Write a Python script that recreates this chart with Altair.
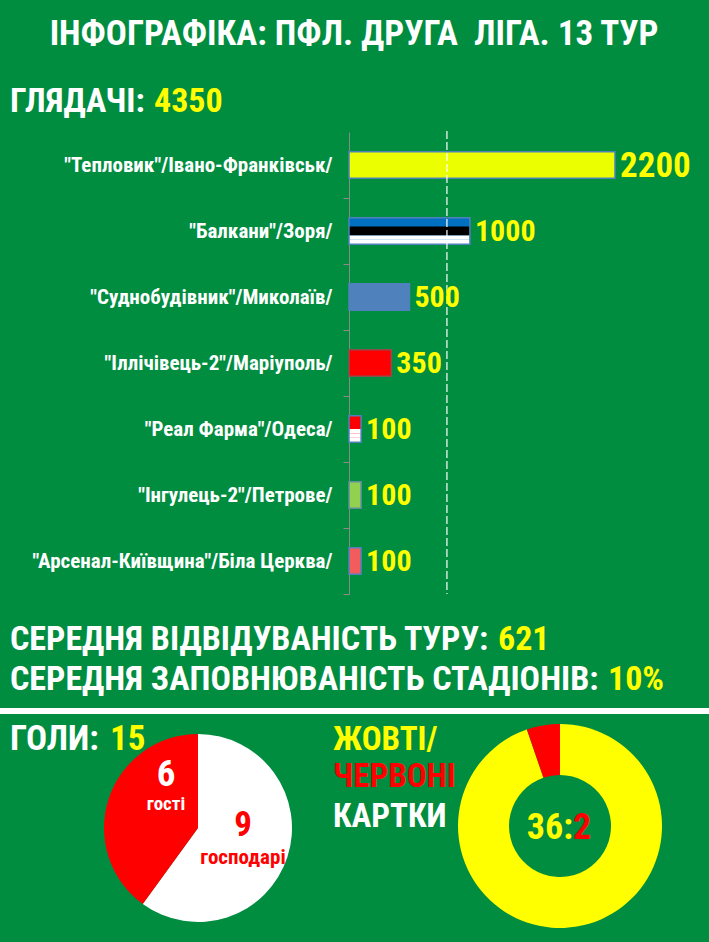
import altair as alt
import pandas as pd

# ---------------- data ----------------
TITLE = "ІНФОГРАФІКА: ПФЛ. ДРУГА\u00a0 ЛІГА. 13 ТУР"
viewers_total = "4350"
teams = [
    '"Тепловик"/Івано-Франківськ/',
    '"Балкани"/Зоря/',
    '"Суднобудівник"/Миколаїв/',
    '"Іллічівець-2"/Маріуполь/',
    '"Реал Фарма"/Одеса/',
    '"Інгулець-2"/Петрове/',
    '"Арсенал-Київщина"/Біла Церква/',
]
viewers = [2200, 1000, 500, 350, 100, 100, 100]
bar_fill = ["#EBFF00", "#0070C0", "#4F81BD", "#FF0000", "#FF0000", "#92D050", "#F25C5C"]
bar_stroke = ["#4F81BD", "#4F81BD", "#4F81BD", "#8C4F4F", "#4F81BD", "#5F8FA0", "#4F81BD"]
ref_value = 810
avg_attendance = "621"
avg_fill = "10%"

# flag stripes (six equal sub-bands per bar)
stripe_teams = ['"Балкани"/Зоря/', '"Реал Фарма"/Одеса/']
stripe_colors = [
    ["#0070C0", "#0070C0", "#000000", "#000000", "#FFFFFF", "#FFFFFF"],
    ["#FF0000", "#FF0000", "#FF0000", "#FFFFFF", "#FFFFFF", "#FFFFFF"],
]
subs = ["s1", "s2", "s3", "s4", "s5", "s6"]

goals_total = "15"
goal_names = ["господарі", "гості"]
goal_values = [9, 6]
goal_colors = ["#FFFFFF", "#FF0000"]

card_names = ["жовті", "червоні"]
card_values = [36, 2]
card_colors = ["#FFFF00", "#FF0000"]

# ---------------- style ----------------
GREEN = "#008D3F"
YELLOW = "#FFFF00"
WHITE = "#FFFFFF"
RED = "#FF0000"
FONT = "'Roboto Condensed', 'DejaVu Sans Condensed', 'Liberation Sans Narrow', Roboto, sans-serif"

bars_df = pd.DataFrame({"team": teams, "viewers": viewers, "fill": bar_fill, "stroke": bar_stroke})
stripe_rows = []
for t, cols in zip(stripe_teams, stripe_colors):
    v = viewers[teams.index(t)]
    for s, c in zip(subs, cols):
        stripe_rows.append({"team": t, "viewers": v, "sub": s, "fill": c})
stripes_df = pd.DataFrame(stripe_rows)

xs = alt.Scale(domain=[0, 2200], range=[349, 615], nice=False)
ys = alt.Scale(domain=teams, range=[132, 594], paddingInner=0.6, paddingOuter=0.3)

X = alt.X("viewers:Q", scale=xs, axis=None)
Y = alt.Y(
    "team:N", scale=ys, sort=teams, title=None,
    axis=alt.Axis(
        offset=-349, labelColor=WHITE, labelFont=FONT, labelFontSize=21,
        labelFontWeight="bold", labelPadding=11, tickColor="#8A8A8A", tickSize=6,
        tickOffset=33, labelOffset=-33, domainColor="#8A8A8A", labelLimit=400, grid=False,
    ),
)

base_bars = alt.Chart(bars_df).mark_bar(strokeWidth=0).encode(
    x=X, y=Y, fill=alt.Fill("fill:N", scale=None)
)
stripe_bars = alt.Chart(stripes_df).mark_bar(strokeWidth=0).encode(
    x=X, y=Y,
    yOffset=alt.YOffset("sub:N", scale=alt.Scale(domain=subs, paddingInner=0, paddingOuter=0)),
    fill=alt.Fill("fill:N", scale=None),
)
outline_bars = alt.Chart(bars_df).mark_bar(fillOpacity=0, strokeWidth=1.5).encode(
    x=X, y=Y, stroke=alt.Stroke("stroke:N", scale=None)
)
value_labels = alt.Chart(bars_df).mark_text(
    align="left", baseline="middle", dx=5, dy=1, font=FONT, fontWeight="bold", color=YELLOW
).encode(
    x=X, y=Y, text="viewers:Q",
    size=alt.condition(alt.datum.viewers > 2000, alt.value(35), alt.value(30)),
)
ref_rule = alt.Chart(pd.DataFrame({"viewers": [ref_value]})).mark_rule(
    color=WHITE, strokeDash=[8, 3], strokeWidth=1.2
).encode(x=X, y=alt.value(131), y2=alt.value(594))


def txt(s, x, y, color, size, align="left"):
    return alt.Chart(pd.DataFrame({"t": [s]})).mark_text(
        align=align, baseline="alphabetic", font=FONT, fontWeight="bold",
        fontSize=size, color=color,
    ).encode(text="t:N", x=alt.value(x), y=alt.value(y))


texts = [
    txt(TITLE, 354, 45, WHITE, 35, "center"),
    txt("ГЛЯДАЧІ:", 10, 112, WHITE, 34),
    txt(viewers_total, 154, 112, YELLOW, 34),
    txt("СЕРЕДНЯ ВІДВІДУВАНІСТЬ ТУРУ:", 10, 650, WHITE, 34),
    txt(avg_attendance, 498, 650, YELLOW, 34),
    txt("СЕРЕДНЯ ЗАПОВНЮВАНІСТЬ СТАДІОНІВ:", 10, 690, WHITE, 34),
    txt(avg_fill, 608, 690, YELLOW, 34),
    txt("ГОЛИ:", 10, 750, WHITE, 35),
    txt(goals_total, 110, 750, YELLOW, 35),
    txt("ЖОВТІ/", 333, 750, YELLOW, 33),
    txt("ЧЕРВОНІ", 333, 787, RED, 33),
    txt("КАРТКИ", 333, 827, WHITE, 33),
]

separator = alt.Chart(pd.DataFrame({"a": [0]})).mark_rule(color=WHITE, strokeWidth=6).encode(
    x=alt.value(0), x2=alt.value(709), y=alt.value(711)
)

goals_df = pd.DataFrame({"name": goal_names, "v": goal_values, "c": goal_colors, "o": [0, 1]})
cards_df = pd.DataFrame({"name": card_names, "v": card_values, "c": card_colors, "o": [0, 1]})

pie = alt.Chart(goals_df).mark_arc(outerRadius=94, stroke=None).encode(
    theta=alt.Theta("v:Q", stack=True),
    order=alt.Order("o:Q"),
    fill=alt.Fill("c:N", scale=None),
    x=alt.value(198), y=alt.value(828),
)
pie_labels = [
    txt(str(goal_values[1]), 166, 786, WHITE, 37, "center"),
    txt(goal_names[1], 166, 810, WHITE, 19, "center"),
    txt(str(goal_values[0]), 243, 836, RED, 35, "center"),
    txt(goal_names[0], 243, 864, RED, 21, "center"),
]

donut = alt.Chart(cards_df).mark_arc(outerRadius=102, innerRadius=51, stroke=None).encode(
    theta=alt.Theta("v:Q", stack=True),
    order=alt.Order("o:Q"),
    fill=alt.Fill("c:N", scale=None),
    x=alt.value(560), y=alt.value(826),
)
donut_labels = [
    txt(f"{card_values[0]}:", 573, 839, YELLOW, 36, "right"),
    txt(str(card_values[1]), 573, 839, RED, 36, "left"),
]

chart = alt.layer(
    base_bars, stripe_bars, outline_bars, ref_rule, value_labels,
    *texts, separator, pie, *pie_labels, donut, *donut_labels,
).resolve_scale(theta="independent").properties(
    width=709, height=942, background=GREEN, padding=0,
    autosize=alt.AutoSizeParams(type="none"),
).configure_view(strokeWidth=0)

chart.save("out.html", embed_options={"renderer": "svg", "actions": False})
